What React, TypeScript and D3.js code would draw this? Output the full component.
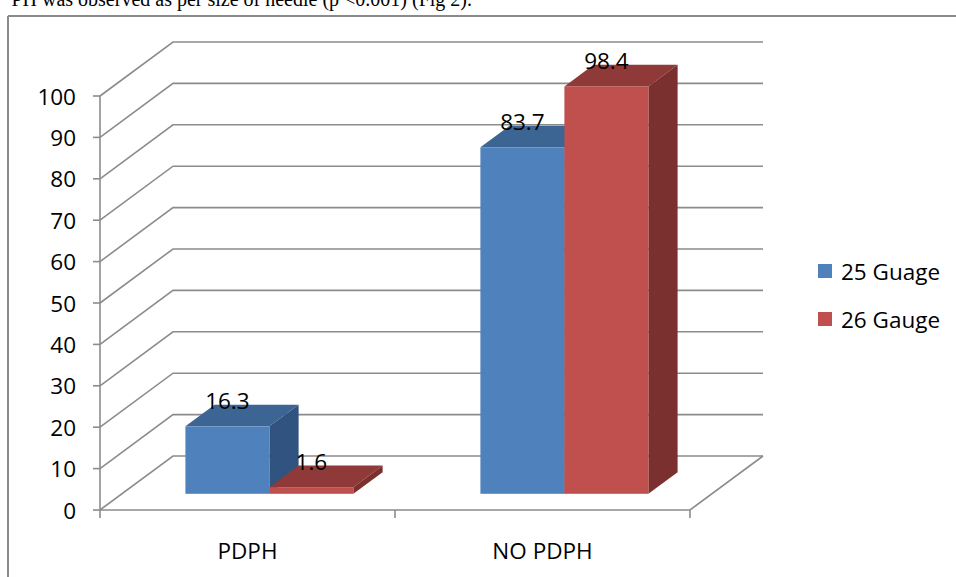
import React from "react";
import * as d3 from "d3";

const categories = ["PDPH", "NO PDPH"];
const seriesNames = ["25 Guage", "26 Gauge"];
const gauge25 = [16.3, 83.7];
const gauge26 = [1.6, 98.4];
const yTicks = [0, 10, 20, 30, 40, 50, 60, 70, 80, 90, 100];

const W = 956;
const H = 577;
const FONT = "'Open Sans', 'Noto Sans', sans-serif";
const FS = 22.5;

const palettes = [
  { front: "#4F81BD", top: "#3D6593", side: "#30537F" },
  { front: "#C0504D", top: "#8F3A38", side: "#7A302E" },
];

export default function App() {
  const x0 = 100, x1 = 690;
  const yBase = 510, yTop = 96;
  const dX = 73, dY = -54; // depth vector
  const y = d3.scaleLinear().domain([0, 100]).range([yBase, yTop]);
  const x = d3.scaleBand<string>().domain(categories).range([x0, x1]).padding(0);
  const xs = d3
    .scaleBand<string>()
    .domain(seriesNames)
    .range([0, x.bandwidth()])
    .paddingInner(0)
    .paddingOuter(0.756);
  const f1 = 0.3, f2 = 0.7;
  const grid = "#8C8C8C";
  const seriesData = [gauge25, gauge26];

  const bars: any[] = [];
  categories.forEach((c, ci) => {
    seriesNames.forEach((s, si) => {
      const v = seriesData[si][ci];
      const bx = (x(c) as number) + (xs(s) as number) + dX * f1;
      const bw = xs.bandwidth();
      const by0 = y(0) + dY * f1;
      const by1 = y(v) + dY * f1;
      const ddx = dX * (f2 - f1), ddy = dY * (f2 - f1);
      bars.push({ c, s, v, bx, bw, by0, by1, ddx, ddy, pal: palettes[si] });
    });
  });

  return (
    <svg width={W} height={H} style={{ position: "absolute", left: 0, top: 0, background: "#fff" }}>
      <text x={472} y={6} textAnchor="end" fontFamily="'Liberation Serif', 'Times New Roman', serif" fontSize={20} fill="#000">
        PH was observed as per size of needle (p &lt;0.001) (Fig 2).
      </text>
      {/* frame */}
      <line x1={8} y1={16} x2={W} y2={16} stroke="#8a8a8a" strokeWidth={2} />
      <line x1={8} y1={16} x2={8} y2={H} stroke="#8a8a8a" strokeWidth={2} />

      {/* back wall gridlines and side wall diagonals */}
      {yTicks.map((t) => (
        <g key={t}>
          <polyline
            points={`${x0},${y(t)} ${x0 + dX},${y(t) + dY} ${x1 + dX},${y(t) + dY}`}
            fill="none"
            stroke={grid}
            strokeWidth={1.6}
          />
          <line x1={x0 - 7} y1={y(t)} x2={x0} y2={y(t)} stroke={grid} strokeWidth={1.6} />
          <text x={76} y={y(t)} textAnchor="end" dominantBaseline="central" fontFamily={FONT} fontSize={FS} fill="#000">
            {t}
          </text>
        </g>
      ))}
      {/* floor */}
      <polyline
        points={`${x0},${yBase} ${x1},${yBase} ${x1 + dX},${yBase + dY}`}
        fill="none"
        stroke={grid}
        strokeWidth={1.6}
      />
      <line x1={x0} y1={yTop} x2={x0} y2={yBase} stroke={grid} strokeWidth={1.6} />
      {[x0, ...categories.map((c) => (x(c) as number) + x.bandwidth())].map((tx, i) => (
        <line key={i} x1={tx} y1={yBase} x2={tx} y2={yBase + 8} stroke={grid} strokeWidth={1.6} />
      ))}
      {categories.map((c) => (
        <text
          key={c}
          x={(x(c) as number) + x.bandwidth() / 2}
          y={550}
          textAnchor="middle"
          dominantBaseline="central"
          fontFamily={FONT}
          fontSize={FS}
          fill="#000"
        >
          {c}
        </text>
      ))}

      {/* bars */}
      {bars.map((b, i) => (
        <g key={i}>
          <polygon
            points={`${b.bx},${b.by1} ${b.bx + b.ddx},${b.by1 + b.ddy} ${b.bx + b.bw + b.ddx},${b.by1 + b.ddy} ${b.bx + b.bw},${b.by1}`}
            fill={b.pal.top}
          />
          <polygon
            points={`${b.bx + b.bw},${b.by1} ${b.bx + b.bw + b.ddx},${b.by1 + b.ddy} ${b.bx + b.bw + b.ddx},${b.by0 + b.ddy} ${b.bx + b.bw},${b.by0}`}
            fill={b.pal.side}
          />
          <rect x={b.bx} y={b.by1} width={b.bw} height={b.by0 - b.by1} fill={b.pal.front} />
        </g>
      ))}
      {bars.map((b, i) => (
        <text
          key={"l" + i}
          x={b.bx + b.bw / 2}
          y={b.by1 + b.ddy + 4}
          textAnchor="middle"
          fontFamily={FONT}
          fontSize={FS}
          fill="#000"
        >
          {b.v}
        </text>
      ))}

      {/* legend */}
      {seriesNames.map((s, i) => (
        <g key={s} transform={`translate(818, ${271 + i * 48})`}>
          <rect x={0} y={-7} width={14} height={14} fill={palettes[i].front} />
          <text x={23} y={0} dominantBaseline="central" fontFamily={FONT} fontSize={FS} fill="#000">
            {s}
          </text>
        </g>
      ))}
    </svg>
  );
}
